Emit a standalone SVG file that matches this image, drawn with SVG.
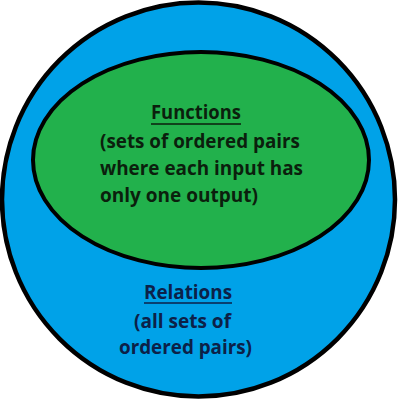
<svg xmlns="http://www.w3.org/2000/svg" width="400" height="400" viewBox="0 0 400 400">
<style>
.t{font-family:"Open Sans","Liberation Sans",sans-serif;font-weight:bold;font-size:20px}
.f{fill:#0b1f0d}
.r{fill:#0c2148}
</style>
<rect width="400" height="400" fill="#ffffff"/>
<g id="relations">
<ellipse cx="198.5" cy="199.5" rx="196.5" ry="197" fill="#00a2e8" stroke="#000" stroke-width="4.5"/>
<text class="t r" x="144" y="299" textLength="88" lengthAdjust="spacingAndGlyphs">Relations</text>
<line x1="144" y1="303" x2="232" y2="303" stroke="#0c2148" stroke-width="1.3"/>
<text class="t r" x="134" y="328" textLength="97" lengthAdjust="spacingAndGlyphs">(all sets of</text>
<text class="t r" x="119" y="354" textLength="133" lengthAdjust="spacingAndGlyphs">ordered pairs)</text>
</g>
<g id="functions">
<ellipse cx="201" cy="160" rx="168" ry="108" fill="#22b14c" stroke="#000" stroke-width="4"/>
<text class="t f" x="151" y="119" textLength="90" lengthAdjust="spacingAndGlyphs">Functions</text>
<line x1="151" y1="124" x2="241" y2="124" stroke="#0b1f0d" stroke-width="1.3"/>
<text class="t f" x="100" y="148" textLength="200" lengthAdjust="spacingAndGlyphs">(sets of ordered pairs</text>
<text class="t f" x="100" y="175" textLength="203" lengthAdjust="spacingAndGlyphs">where each input has</text>
<text class="t f" x="100" y="202" textLength="158" lengthAdjust="spacingAndGlyphs">only one output)</text>
</g>
</svg>
